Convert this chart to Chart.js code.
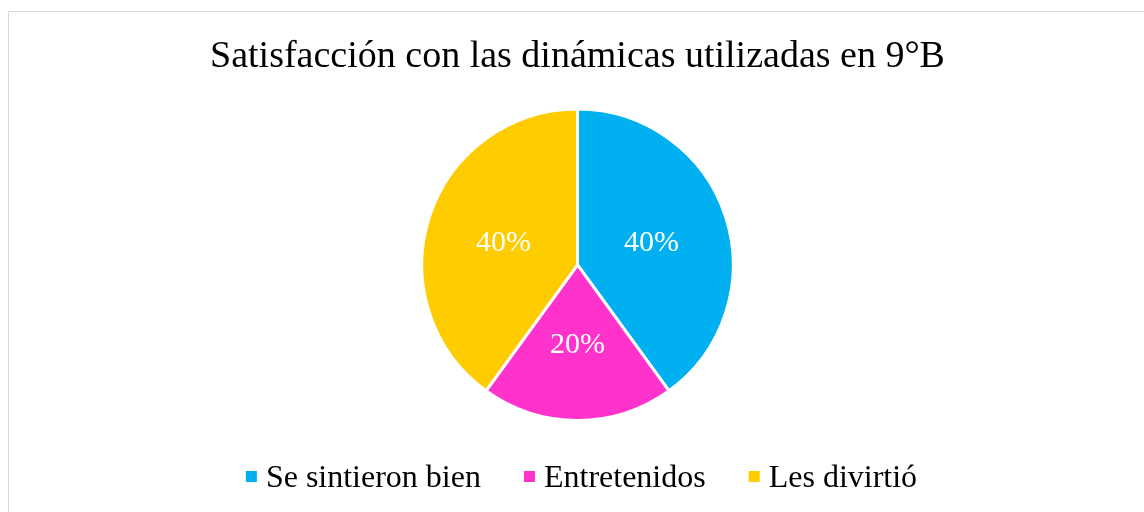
<!DOCTYPE html>
<html>
<head>
<meta charset="utf-8">
<script src="https://cdn.jsdelivr.net/npm/chart.js@4/dist/chart.umd.min.js"></script>
<style>
  html, body { margin: 0; padding: 0; background: #fff; overflow: hidden; }
  .frame { position: absolute; left: 8px; top: 11px; width: 1200px; height: 600px; border: 1px solid #d9d9d9; box-sizing: border-box; }
  .wrap { position: absolute; left: 0; top: 0; width: 1144px; height: 512px; }
</style>
</head>
<body>
<div class="frame"></div>
<div class="wrap"><canvas id="pie" width="1144" height="512"></canvas></div>
<script>
const categories = ['Se sintieron bien', 'Entretenidos', 'Les divirtió'];
const shares = [40, 20, 40];
const sliceColors = ['#00B0F0', '#FF33CC', '#FFCC00'];
const chartTitle = 'Satisfacción con las dinámicas utilizadas en 9°B';

const serif = '"Liberation Serif", "Times New Roman", serif';

// percentage labels in the middle of each slice
const sliceLabels = {
    id: 'sliceLabels',
    afterDatasetsDraw(chart) {
        const ctx = chart.ctx;
        const meta = chart.getDatasetMeta(0);
        const total = shares.reduce((a, b) => a + b, 0);
        ctx.save();
        ctx.font = '30px ' + serif;
        ctx.fillStyle = '#ffffff';
        ctx.textAlign = 'center';
        ctx.textBaseline = 'middle';
        meta.data.forEach((arc, i) => {
            const p = arc.tooltipPosition();
            ctx.fillText(Math.round(shares[i] / total * 100) + '%', p.x, p.y + 2);
        });
        ctx.restore();
    }
};

// legend row under the pie, drawn by hand to get the tight box/text gap
const bottomLegend = {
    id: 'bottomLegend',
    afterDraw(chart) {
        const ctx = chart.ctx;
        const box = 11, gap = 9, spacing = 43;
        ctx.save();
        ctx.font = '32px ' + serif;
        const widths = categories.map(c => ctx.measureText(c).width);
        const total = widths.reduce((a, w) => a + box + gap + w, 0) + spacing * (categories.length - 1);
        const centerX = (chart.chartArea.left + chart.chartArea.right) / 2 + 4;
        let x = centerX - total / 2;
        const baseline = 487;
        categories.forEach((c, i) => {
            ctx.fillStyle = sliceColors[i];
            ctx.fillRect(x, baseline - 16, box, box);
            ctx.fillStyle = '#000000';
            ctx.textAlign = 'left';
            ctx.textBaseline = 'alphabetic';
            ctx.fillText(c, x + box + gap, baseline);
            x += box + gap + widths[i] + spacing;
        });
        ctx.restore();
    }
};

new Chart(document.getElementById('pie'), {
    type: 'pie',
    data: {
        labels: categories,
        datasets: [{
            data: shares,
            backgroundColor: sliceColors,
            borderColor: '#ffffff',
            borderWidth: 3
        }]
    },
    options: {
        responsive: false,
        animation: false,
        layout: { padding: { top: 0, left: 11, right: 0, bottom: 90 } },
        plugins: {
            legend: { display: false },
            tooltip: { enabled: false },
            title: {
                display: true,
                text: chartTitle,
                color: '#000000',
                font: { family: serif, size: 38, weight: 'normal', lineHeight: 1.2 },
                padding: { top: 34, bottom: 28 }
            }
        }
    },
    plugins: [sliceLabels, bottomLegend]
});
</script>
</body>
</html>
